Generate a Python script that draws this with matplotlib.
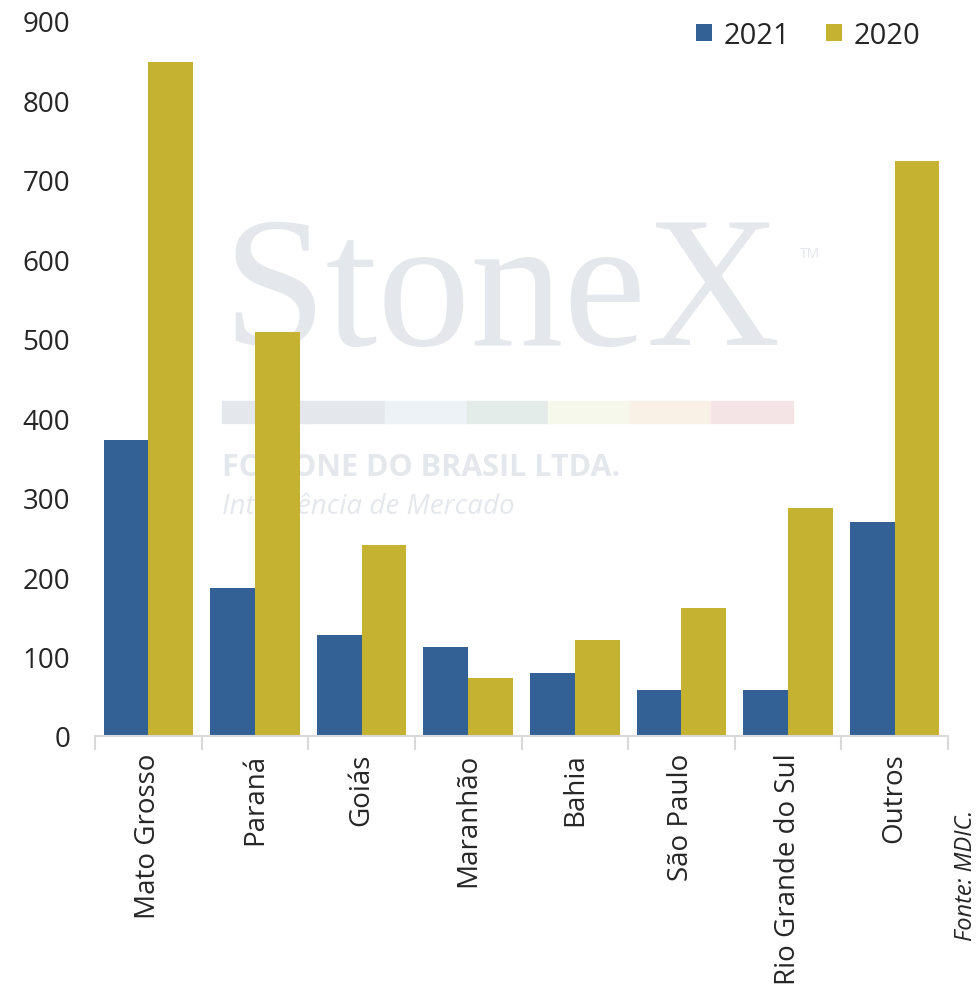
import matplotlib
matplotlib.use("Agg")
import matplotlib.pyplot as plt
import numpy as np

categories = ["Mato Grosso", "Paraná", "Goiás", "Maranhão", "Bahia",
              "São Paulo", "Rio Grande do Sul", "Outros"]
v2021 = [373, 186, 127, 112, 79, 58, 58, 270]
v2020 = [849, 509, 240, 73, 121, 161, 287, 724]
yticks = [0, 100, 200, 300, 400, 500, 600, 700, 800, 900]

blue = "#336195"
gold = "#C5B230"
txt = "#262626"

plt.rcParams['font.family'] = ['Open Sans', 'DejaVu Sans']

fig = plt.figure(figsize=(9.8, 9.87), dpi=100)

# watermark (behind the axes)
wm = "#e4e7ec"
fig.text(502/980, 1-300/987, "StoneX", fontsize=134, family="Liberation Serif",
         color=wm, ha="center", va="center", zorder=-2)
fig.text(810/980, 1-255/987, "TM", fontsize=10, color=wm, ha="center", va="center", zorder=-2)
band_cols = ["#e4e7ec", "#e4e7ec", "#edf2f6", "#e3ece8", "#f7f8ec", "#faf1e6", "#f5e4e6"]
for i, c in enumerate(band_cols):
    r = plt.Rectangle(((222 + i*81.5)/980, 1-424/987), 81.5/980, 22/987,
                      transform=fig.transFigure, color=c, zorder=-2)
    fig.patches.append(r)
fig.text(222/980, 1-468/987, "FCSTONE DO BRASIL LTDA.", fontsize=22, fontweight="bold",
         color=wm, ha="left", va="center", zorder=-2)
fig.text(222/980, 1-507/987, "Inteligência de Mercado", fontsize=20, style="italic",
         color=wm, ha="left", va="center", zorder=-2)

ax = fig.add_axes([95/980, 1-737/987, 853/980, 715/987])
ax.set_facecolor("none")
ax.set_zorder(1)

x = np.arange(len(categories))
w = 0.42
ax.bar(x - w/2, v2021, w, color=blue, label="2021", zorder=2)
ax.bar(x + w/2, v2020, w, color=gold, label="2020", zorder=2)

ax.set_xlim(-0.5, len(categories) - 0.5)
ax.set_ylim(0, 900)
ax.set_yticks(yticks)
ax.set_yticklabels([str(t) for t in yticks], fontsize=20, color=txt)
ax.tick_params(axis='y', length=0, pad=18)

ax.set_xticks(x)
ax.set_xticklabels(categories, rotation=90, fontsize=20, color=txt)
ax.tick_params(axis='x', length=0, pad=12)
ax.set_xticks(np.arange(len(categories) + 1) - 0.5, minor=True)
ax.tick_params(axis='x', which='minor', length=10, color="#d9d9d9", width=1.5)

for s in ["left", "right", "top"]:
    ax.spines[s].set_visible(False)
ax.spines["bottom"].set_color("#d9d9d9")
ax.spines["bottom"].set_linewidth(1.5)

leg = ax.legend(loc="upper right", bbox_to_anchor=(926/980, 1-16/987),
                bbox_transform=fig.transFigure, ncol=2, frameon=False,
                borderaxespad=0, borderpad=0.2,
                fontsize=21, handlelength=0.55, handleheight=0.55,
                handletextpad=0.4, columnspacing=1.2)
for t in leg.get_texts():
    t.set_color(txt)

fig.text(966/980, 1-875/987, "Fonte: MDIC.", rotation=90, style="italic",
         fontsize=17, color=txt, ha="center", va="center")

fig.savefig("out.png", dpi=100)
